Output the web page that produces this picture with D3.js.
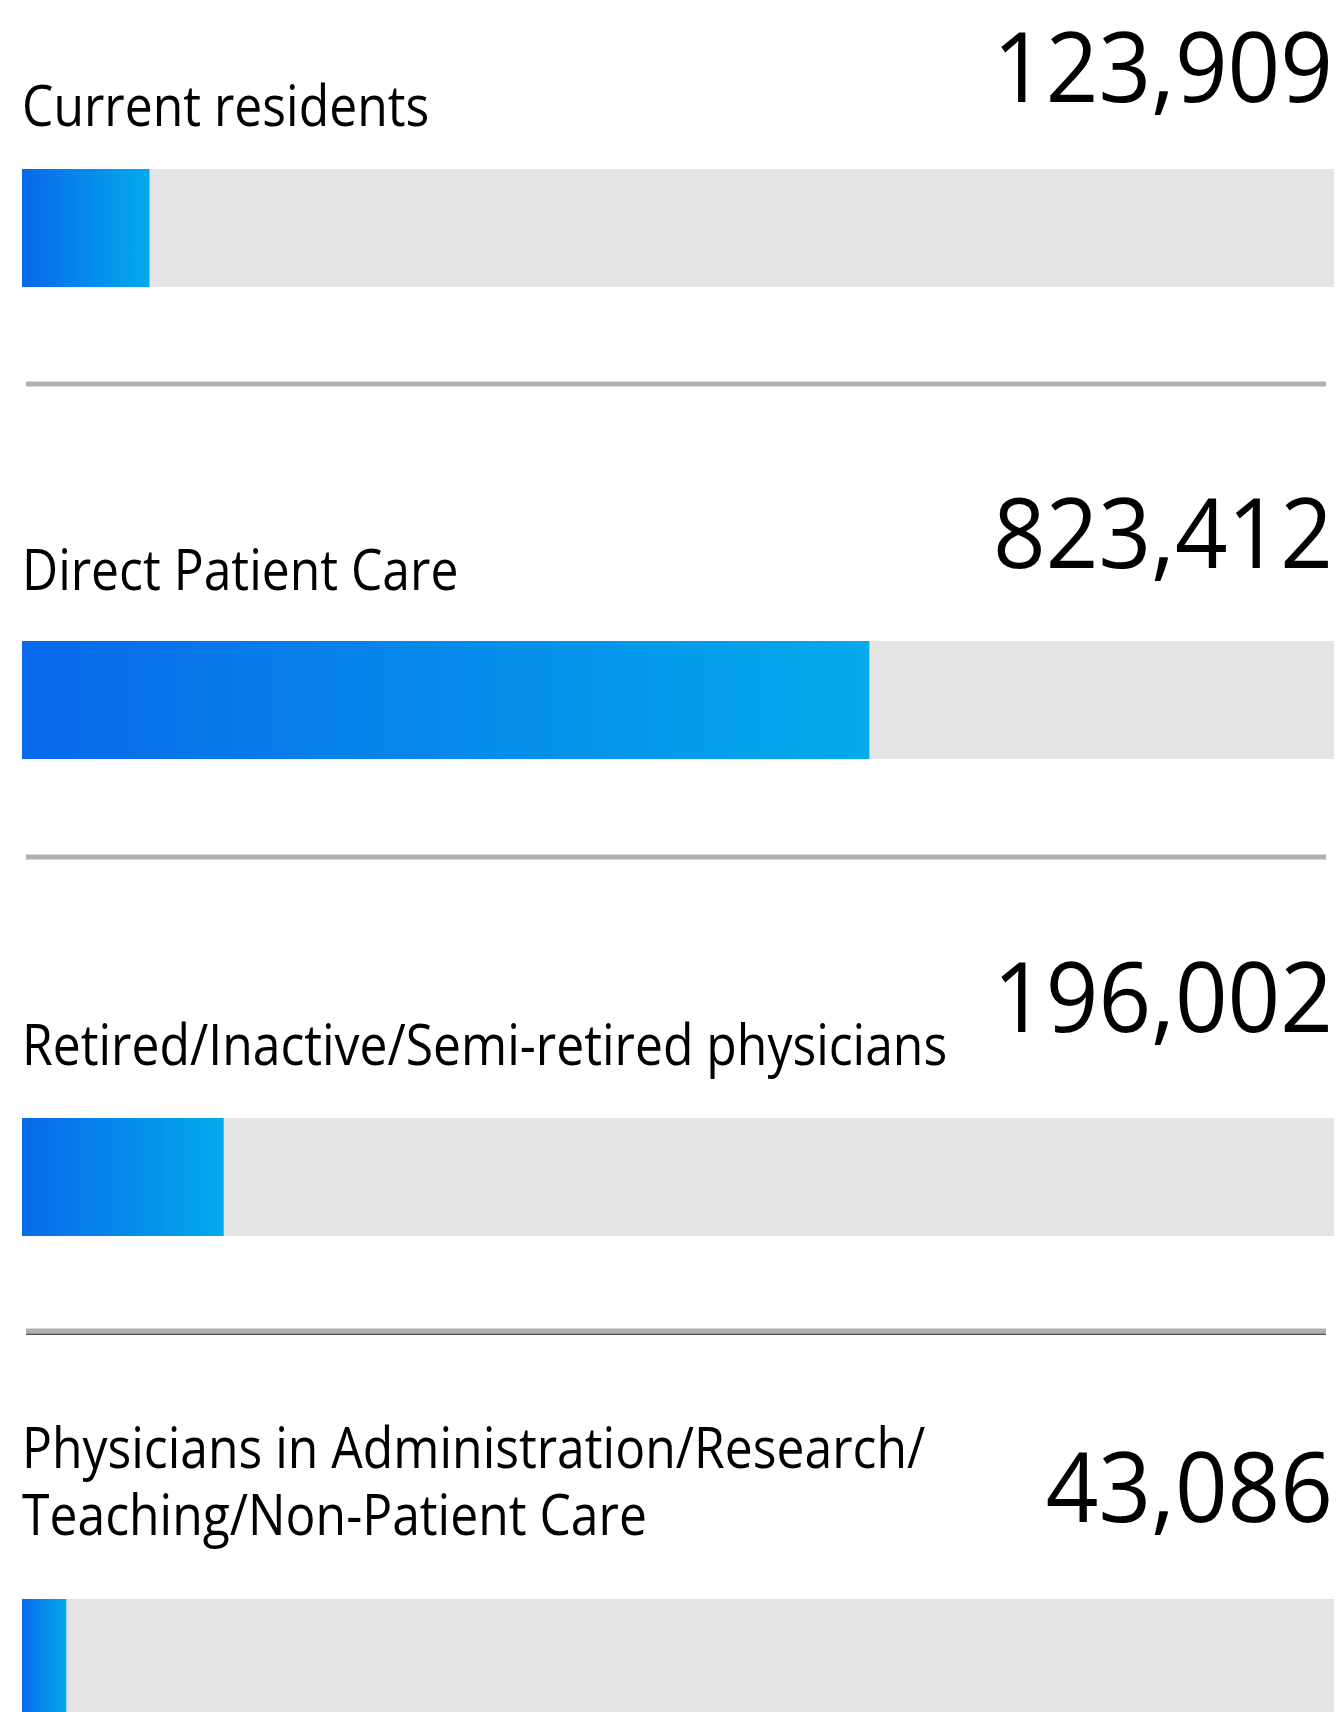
<!DOCTYPE html>
<html>
<head>
<meta charset="utf-8">
<script src="https://cdn.jsdelivr.net/npm/d3@7"></script>
<style>
  html, body { margin: 0; padding: 0; background: #fff; }
  svg { display: block; }
  text { font-family: "Open Sans", "Noto Sans", sans-serif; fill: #000; }
</style>
</head>
<body>
<div id="chart"></div>
<script>
// data
var categories = [
  ["Current residents"],
  ["Direct Patient Care"],
  ["Retired/Inactive/Semi-retired physicians"],
  ["Physicians in Administration/Research/", "Teaching/Non-Patient Care"]
];
var values = [123909, 823412, 196002, 43086];
var trackMax = 1275000;

// layout, one entry per row
var barTop = [169, 641, 1118, 1599];
var labelBase = [126, 590, 1065, 1468];
var numberBase = [102, 568, 1032, 1522];
var separatorY = [384, 857, 1331];

var svgWidth = 1339;
var svgHeight = 1712;
var barHeight = 118;
var lineGap = 67;

var svg = d3.select("#chart")
  .append("svg")
  .attr("width", svgWidth)
  .attr("height", svgHeight);

var defs = svg.append("defs");
var grad = defs.append("linearGradient")
  .attr("id", "barGrad")
  .attr("x1", "0%").attr("x2", "100%")
  .attr("y1", "0%").attr("y2", "0%");
grad.append("stop").attr("offset", "0%").attr("stop-color", "#0969ea");
grad.append("stop").attr("offset", "100%").attr("stop-color", "#03aaeb");

var x = d3.scaleLinear()
  .domain([0, trackMax])
  .range([22, 1334]);

var rows = values.map(function(v, i) {
  return { value: v, label: categories[i], i: i };
});

// grey tracks
svg.selectAll("rect.track")
  .data(rows)
  .enter()
  .append("rect")
  .attr("class", "track")
  .attr("x", x(0))
  .attr("y", d => barTop[d.i])
  .attr("width", x(trackMax) - x(0))
  .attr("height", barHeight)
  .attr("fill", "#e4e4e4");

// blue bars
svg.selectAll("rect.bar")
  .data(rows)
  .enter()
  .append("rect")
  .attr("class", "bar")
  .attr("x", x(0))
  .attr("y", d => barTop[d.i])
  .attr("width", d => x(d.value) - x(0))
  .attr("height", barHeight)
  .attr("fill", "url(#barGrad)");

// separators
svg.selectAll("rect.sep")
  .data(separatorY)
  .enter()
  .append("rect")
  .attr("class", "sep")
  .attr("x", 26)
  .attr("y", d => d - 2.5)
  .attr("width", 1300)
  .attr("height", 5)
  .attr("fill", "#b0b0b0");

// the last separator has a darker under-edge
svg.append("rect")
  .attr("x", 26)
  .attr("y", separatorY[2] + 2.5)
  .attr("width", 1300)
  .attr("height", 1.5)
  .attr("fill", "#555");

// category labels (condensed to the narrow face of the original)
var labelSqueeze = 0.89;
rows.forEach(function(d) {
  var t = svg.append("text")
    .attr("class", "label")
    .attr("font-size", 56);
  d.label.forEach(function(line, k) {
    t.append("tspan")
      .attr("x", 22)
      .attr("y", labelBase[d.i] + k * lineGap)
      .text(line);
  });
  t.selectAll("tspan").each(function() {
    var w = this.getComputedTextLength();
    d3.select(this)
      .attr("textLength", w * labelSqueeze)
      .attr("lengthAdjust", "spacingAndGlyphs");
  });
});

// numbers
var fmt = d3.format(",");
var numSqueeze = 0.95;
svg.selectAll("text.num")
  .data(rows)
  .enter()
  .append("text")
  .attr("class", "num")
  .attr("x", 1333)
  .attr("y", d => numberBase[d.i])
  .attr("text-anchor", "end")
  .attr("font-size", 97)
  .text(d => fmt(d.value))
  .each(function() {
    var w = this.getComputedTextLength();
    d3.select(this)
      .attr("textLength", w * numSqueeze)
      .attr("lengthAdjust", "spacingAndGlyphs");
  });
</script>
</body>
</html>
